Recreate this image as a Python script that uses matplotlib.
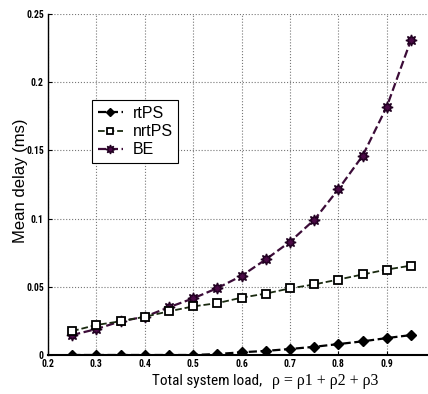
import matplotlib
matplotlib.use("Agg")
import matplotlib.pyplot as plt
from matplotlib import font_manager
import numpy as np

load = [0.25, 0.3, 0.35, 0.4, 0.45, 0.5, 0.55, 0.6, 0.65, 0.7, 0.75, 0.8, 0.85, 0.9, 0.95]
rtps = [0.0, 0.0, 0.0, 0.0, 0.0, 0.0, 0.0007, 0.002, 0.003, 0.0044, 0.006, 0.008, 0.010, 0.0124, 0.0146]
nrtps = [0.0175, 0.022, 0.0247, 0.028, 0.032, 0.0356, 0.038, 0.042, 0.045, 0.0488, 0.0517, 0.0553, 0.059, 0.0626, 0.0655]
be = [0.0146, 0.019, 0.0247, 0.028, 0.035, 0.0415, 0.049, 0.058, 0.070, 0.083, 0.099, 0.1215, 0.146, 0.182, 0.231]
xticks = [0.2, 0.3, 0.4, 0.5, 0.6, 0.7, 0.8, 0.9]
yticks = [0, 0.05, 0.1, 0.15, 0.2, 0.25]
ytick_labels = ["0", "0.05", "0.1", "0.15", "0.2", "0.25"]

names = {f.name for f in font_manager.fontManager.ttflist}
narrow = None
for cand in ['Liberation Sans Narrow', 'DejaVu Sans Condensed', 'Roboto Condensed', 'Open Sans Condensed']:
    if cand in names:
        narrow = cand
        break

plt.rcParams['font.family'] = ['Liberation Sans', 'DejaVu Sans']

fig = plt.figure(figsize=(4.28, 3.94), dpi=100)
ax = fig.add_axes([0.112, 0.099, 0.888, 0.866])

ax.plot(load, be, linestyle='--', color='#3c0c38', lw=1.6, marker=(8, 1, 0), markersize=8,
        markerfacecolor='#4a0a46', markeredgecolor='#200020', label='BE', zorder=3)
ax.plot(load, nrtps, linestyle='--', color='#1a2a10', lw=1.3, marker='s', markersize=5.5,
        markerfacecolor='white', markeredgecolor='black', markeredgewidth=1.3, label='nrtPS', zorder=4)
ax.plot(load, rtps, linestyle='--', color='black', lw=1.6, marker='D', markersize=5.5,
        markerfacecolor='black', markeredgecolor='black', label='rtPS', zorder=5)

tick_family = narrow if narrow else 'Liberation Sans'
ax.set_xlim(0.2, 0.985)
ax.set_ylim(0, 0.25)
ax.set_xticks(xticks)
ax.set_xticklabels([f"{t:.1f}" for t in xticks], fontsize=7, fontweight='bold', family=tick_family)
ax.set_yticks(yticks)
ax.set_yticklabels(ytick_labels, fontsize=7, fontweight='bold', family=tick_family)
ax.tick_params(axis='x', direction='in', length=3, pad=3)
ax.tick_params(axis='y', direction='in', length=3, pad=3)
ax.grid(True, linestyle=':', color='#777777', linewidth=0.8)
ax.spines['top'].set_visible(False)
ax.spines['right'].set_visible(False)
ax.spines['left'].set_linewidth(1.0)
ax.spines['bottom'].set_linewidth(1.5)

handles, labels = ax.get_legend_handles_labels()
order = [2, 1, 0]
leg = ax.legend([handles[i] for i in order], [labels[i] for i in order],
                loc='upper left', bbox_to_anchor=(0.116, 0.746), borderaxespad=0,
                fontsize=11.5, frameon=True, fancybox=False, edgecolor='black', framealpha=1,
                handlelength=1.6, handletextpad=0.6, borderpad=0.35, labelspacing=0.2,
                markerscale=0.8)
leg.get_frame().set_linewidth(0.8)

lab_family = narrow if narrow else 'Liberation Sans'
lab_size = 11 if narrow else 10
fig.text(0.047, 0.54, "Mean delay (ms)", rotation=90, ha='center', va='center', fontsize=12, family='Liberation Sans')
fig.text(0.612, 0.033, "Total system load,", ha='right', va='center', fontsize=lab_size, family=lab_family)
fig.text(0.635, 0.033, "ρ = ρ1 + ρ2 + ρ3", ha='left', va='center', fontsize=11.5,
         family=['Liberation Serif', 'DejaVu Serif'])

fig.savefig("out.png", dpi=100)
